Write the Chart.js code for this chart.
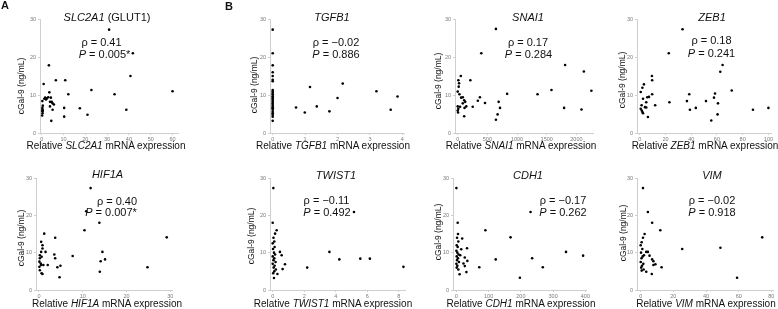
<!DOCTYPE html>
<html>
<head>
<meta charset="utf-8">
<script src="https://cdn.jsdelivr.net/npm/chart.js@4"></script>
<style>
  body { margin: 0; background: #fff; }
  #fig { position: relative; width: 778px; height: 309px; overflow: hidden; font-family: "Liberation Sans", Arial, sans-serif; color: #111; }
  .box { position: absolute; }
  .t { position: absolute; white-space: nowrap; transform: translate(-50%, -50%); line-height: 1; }
  .title { font-size: 11px; }
  .stat { font-size: 11px; }
  .xt { font-size: 10px; }
  .yt { font-size: 8.5px; transform: translate(-50%, -50%) rotate(-90deg); }
  .lab { font-size: 11px; font-weight: bold; }
</style>
</head>
<body>
<div id="fig"></div>
<script>
// cGal-9 (ng/mL) vs relative mRNA expression, one scatter per gene

const yTicks = [0, 10, 20, 30];

// A - SLC2A1
const slc2a1X = [30.9, 41.8, 3.3, 6.5, 10.8, 0.9, 40.7, 60, 22.8, 12.2, 33.4, 3.5, 1.6, 2.3, 3.0, 4.2, 0.3, 4.6, 5.0, 5.6, 3.8, 0.3, 0.4, 0.4, 0.4, 0.2, 10.3, 17.5, 38.8, 5.0, 21.0, 10.3, 4.4, 0.5, 1.2, 2.0, 3.8, 0.3];
const slc2a1Y = [27.2, 21.0, 17.8, 13.9, 13.9, 12.9, 15.0, 11.0, 11.3, 10.2, 10.2, 10.7, 9.3, 9.1, 9.4, 9.3, 8.4, 8.2, 7.8, 7.5, 7.0, 6.6, 6.1, 5.7, 5.2, 4.6, 6.6, 6.5, 6.1, 6.1, 4.8, 4.3, 3.2, 7.2, 9.0, 8.8, 8.2, 5.9];
const slc2a1Ticks = [0, 10, 20, 30, 40, 50, 60];

// HIF1A
const hif1aX = [11.8, 10.8, 13.8, 10.4, 1.2, 3.7, 29.2, 0.5, 0.8, 0.8, 0.5, 0.2, 0.6, 0.2, 0.1, 0.5, 0.1, 0.2, 0.6, 0.8, 0.4, 1.0, 1.5, 3.5, 3.7, 7.7, 14.5, 14.1, 15.1, 2.0, 4.2, 4.9, 13.9, 4.7, 24.8];
const hif1aY = [27.3, 21.1, 18.0, 16.0, 15.1, 14.0, 14.1, 12.9, 12.0, 11.1, 10.2, 9.3, 8.9, 8.5, 7.6, 6.7, 6.2, 5.3, 4.5, 4.3, 7.1, 6.7, 10.2, 9.5, 8.5, 9.1, 10.2, 7.7, 8.2, 6.7, 6.1, 6.5, 4.9, 3.4, 6.1];
const hif1aTicks = [0, 10, 20, 30];

// B - TGFB1
const tgfb1X = [0, 0, 0, 0, 0, 0, 0, 0, 0, 0, 0, 0, 0, 0, 0, 0, 0, 0, 0, 0, 0, 0, 0, 0, 0, 0, 0, 0.72, 0.99, 1.15, 1.36, 1.75, 2.0, 2.16, 3.2, 3.64, 3.85];
const tgfb1Y = [27.2, 21.0, 17.8, 16.0, 15.0, 14.0, 13.6, 11.3, 10.9, 10.5, 10.2, 9.7, 9.3, 9.0, 8.7, 8.3, 7.9, 7.6, 7.2, 6.8, 6.5, 6.1, 5.6, 5.2, 4.8, 4.3, 3.2, 6.7, 5.4, 12.1, 7.0, 5.7, 9.2, 13.0, 11.0, 6.1, 9.6];
const tgfb1Ticks = [0, 1, 2, 3, 4];

// SNAI1
const snai1X = [644, 397, 1810, 2126, 52, 11, 213, 23, 17, 0, 29, 57, 86, 109, 126, 86, 144, 115, 0, 11, 0, 6, 40, 109, 2253, 1580, 1345, 833, 374, 339, 690, 460, 253, 713, 1793, 2086, 672, 644];
const snai1Y = [27.4, 21.0, 17.9, 16.2, 15.0, 13.9, 13.9, 13.1, 12.2, 10.9, 10.2, 9.3, 9.4, 8.6, 8.2, 7.8, 7.0, 6.6, 7.0, 6.4, 5.9, 5.4, 6.9, 4.4, 11.1, 11.3, 10.2, 10.3, 9.4, 8.5, 8.2, 7.9, 6.9, 6.6, 6.6, 6.2, 4.9, 3.5];
const snai1Ticks = [0, 500, 1000, 1500, 2000];

// ZEB1
const zeb1X = [33.3, 22.6, 64.4, 62.6, 9.5, 9.7, 3.3, 2.1, 0.8, 71.5, 9.7, 38.5, 58.5, 57.7, 2.6, 5.9, 7.2, 36.7, 23.1, 51.5, 12.0, 5.1, 1.5, 60.8, 4.1, 5.1, 0.8, 1.6, 2.1, 2.6, 39.0, 43.6, 88.0, 100.0, 6.4, 60.5, 55.6];
const zeb1Y = [27.3, 21.0, 17.9, 16.1, 15.0, 13.9, 12.8, 11.9, 10.8, 11.2, 10.2, 10.2, 10.4, 9.3, 9.0, 9.4, 9.5, 8.4, 8.1, 8.4, 7.3, 8.1, 7.3, 7.8, 6.8, 6.7, 6.4, 5.9, 5.5, 5.2, 6.1, 6.6, 6.1, 6.6, 4.2, 4.9, 3.3];
const zeb1Ticks = [0, 20, 40, 60, 80, 100];

// TWIST1
const twist1X = [0.04, 0, 0.25, 0.15, 5.16, 0.05, 0.1, 0.0, 0.12, 0.02, 0.08, 0.15, 0.0, 0.1, 0.05, 0.18, 0.0, 0.12, 0.06, 0.2, 0.1, 0.03, 0.08, 0.46, 0.57, 0.78, 0.63, 0.3, 2.19, 3.6, 4.23, 5.56, 6.17, 8.3];
const twist1Y = [27.3, 18.0, 16.0, 15.1, 20.9, 14.0, 13.0, 12.5, 11.5, 11.0, 10.0, 9.5, 9.0, 8.5, 8.0, 7.5, 7.0, 6.5, 6.0, 5.5, 5.0, 4.5, 3.2, 10.2, 9.3, 6.9, 5.6, 4.3, 6.0, 10.2, 8.2, 8.4, 8.4, 6.2];
const twist1Ticks = [0, 2, 4, 6, 8];

// CDH1
const cdh1X = [0, 230, 4, 90, 5, 168, 18, 2, 6, 1, 4, 0, 3, 7, 1, 5, 2, 8, 0, 3, 1, 6, 33, 15, 340, 393, 12, 26, 122, 34, 235, 22, 26, 71, 268, 31, 10, 197];
const cdh1Y = [27.3, 20.9, 18.0, 16.0, 15.0, 14.1, 13.8, 14.0, 13.0, 12.0, 11.5, 10.5, 10.0, 9.5, 9.0, 8.5, 8.0, 7.5, 7.0, 6.5, 6.0, 5.5, 11.2, 10.9, 10.2, 9.2, 9.3, 8.7, 8.2, 7.8, 8.5, 7.1, 6.4, 6.1, 6.1, 4.8, 4.2, 3.3];
const cdh1Ticks = [0, 100, 200, 300, 400];

// VIM
const vimX = [1.4, 4.4, 7.0, 12.0, 2.4, 74.4, 1.4, 0.6, 0.0, 1.0, 25.4, 48.8, 3.4, 4.4, 5.4, 2.0, 7.0, 7.8, 9.0, 7.8, 12.8, 3.4, 6.8, 59.0, 0.2, 1.2, 0.5, 0.0, 1.6, 0.8, 0.3, 1.8, 0.6];
const vimY = [27.3, 20.9, 18.0, 16.0, 15.0, 14.1, 14.0, 12.8, 12.0, 11.0, 11.0, 11.3, 10.2, 10.2, 9.2, 9.3, 8.2, 7.7, 6.9, 6.7, 6.1, 4.9, 4.3, 3.3, 10.0, 9.0, 8.5, 7.5, 7.0, 6.5, 6.0, 5.5, 5.2];
const vimTicks = [0, 20, 40, 60, 80];

// placement of each panel on the 778x309 page
const panels = [
  { x: slc2a1X, y: slc2a1Y, xt: slc2a1Ticks, ax: 40, x0: 41.7, endPx: 173, xmax: 62.5, top: 19.3, bottom: 133.3,
    title: "<i>SLC2A1</i> (GLUT1)", tx: 107, ty: 17, rho: "ρ = 0.41", p: "<i>P</i> = 0.005*", rx: 101.5, ry: 42, px: 104.5, py: 53.5,
    xl: "Relative <i>SLC2A1</i> mRNA expression", xlx: 106, xly: 146, ylx: 21, yly: 86 },
  { x: tgfb1X, y: tgfb1Y, xt: tgfb1Ticks, ax: 270, x0: 272.7, endPx: 402.3, xmax: 4.05, top: 19.3, bottom: 133.3,
    title: "<i>TGFB1</i>", tx: 332, ty: 17, rho: "ρ = −0.02", p: "<i>P</i> = 0.886", rx: 336, ry: 42, px: 336, py: 54,
    xl: "Relative <i>TGFB1</i> mRNA expression", xlx: 333, xly: 146, ylx: 254, yly: 85 },
  { x: snai1X, y: snai1Y, xt: snai1Ticks, ax: 455, x0: 457.7, endPx: 576, xmax: 2280, top: 19.3, bottom: 133.3,
    title: "<i>SNAI1</i>", tx: 528, ty: 17, rho: "ρ = 0.17", p: "<i>P</i> = 0.284", rx: 528, ry: 42, px: 528.5, py: 54,
    xl: "Relative <i>SNAI1</i> mRNA expression", xlx: 521, xly: 146, ylx: 438, yly: 81 },
  { x: zeb1X, y: zeb1Y, xt: zeb1Ticks, ax: 637.3, x0: 640, endPx: 769, xmax: 102, top: 19.3, bottom: 133.3,
    title: "<i>ZEB1</i>", tx: 712, ty: 17, rho: "ρ = 0.18", p: "<i>P</i> = 0.241", rx: 711.5, ry: 40, px: 711.5, py: 53,
    xl: "Relative <i>ZEB1</i> mRNA expression", xlx: 705, xly: 146, ylx: 622, yly: 80 },
  { x: hif1aX, y: hif1aY, xt: hif1aTicks, ax: 36, x0: 39, endPx: 170.7, xmax: 30.4, top: 177.7, bottom: 290,
    title: "<i>HIF1A</i>", tx: 107.5, ty: 174, rho: "ρ = 0.40", p: "<i>P</i> = 0.007*", rx: 117, ry: 200.7, px: 111, py: 212.3,
    xl: "Relative <i>HIF1A</i> mRNA expression", xlx: 107, xly: 304, ylx: 21, yly: 237.5 },
  { x: twist1X, y: twist1Y, xt: twist1Ticks, ax: 270, x0: 272.7, endPx: 398.3, xmax: 8.4, top: 177.7, bottom: 290,
    title: "<i>TWIST1</i>", tx: 336, ty: 175, rho: "ρ = −0.11", p: "<i>P</i> = 0.492", rx: 326.5, ry: 200, px: 327, py: 211.7,
    xl: "Relative <i>TWIST1</i> mRNA expression", xlx: 333, xly: 304, ylx: 251, yly: 236 },
  { x: cdh1X, y: cdh1Y, xt: cdh1Ticks, ax: 453.3, x0: 456.7, endPx: 586, xmax: 405, top: 177.7, bottom: 290,
    title: "<i>CDH1</i>", tx: 528, ty: 175, rho: "ρ = −0.17", p: "<i>P</i> = 0.262", rx: 563, ry: 200, px: 563, py: 212.3,
    xl: "Relative <i>CDH1</i> mRNA expression", xlx: 521, xly: 304, ylx: 438, yly: 232 },
  { x: vimX, y: vimY, xt: vimTicks, ax: 637.3, x0: 641, endPx: 771.7, xmax: 81, top: 177.7, bottom: 290,
    title: "<i>VIM</i>", tx: 712, ty: 175, rho: "ρ = −0.02", p: "<i>P</i> = 0.918", rx: 712, ry: 200, px: 712, py: 212,
    xl: "Relative <i>VIM</i> mRNA expression", xlx: 706, xly: 304, ylx: 623, yly: 233 },
];

const fig = document.getElementById("fig");
const axisGray = "#cfcfcf";
const tickFont = { family: "'Liberation Sans', Arial, sans-serif", size: 5.5 };

function addText(cls, html, x, y) {
  const d = document.createElement("div");
  d.className = "t " + cls;
  d.innerHTML = html;
  d.style.left = x + "px";
  d.style.top = y + "px";
  fig.appendChild(d);
}

function makePanel(p) {
  const lastTick = p.xt[p.xt.length - 1];
  const ppu = (p.endPx - p.x0) / lastTick;
  const xmin = -(p.x0 - p.ax) / ppu;
  const right = p.x0 + p.xmax * ppu;

  const L = p.ax - 30, T = p.top - 6;
  const W = Math.round(right - L + 4), H = Math.round(p.bottom - T + 12);
  const box = document.createElement("div");
  box.className = "box";
  box.style.left = L + "px";
  box.style.top = T + "px";
  const cv = document.createElement("canvas");
  cv.width = W; cv.height = H;
  cv.style.width = W + "px"; cv.style.height = H + "px";
  box.appendChild(cv);
  fig.appendChild(box);

  new Chart(cv, {
    type: "scatter",
    data: {
      datasets: [{
        data: p.x.map((v, i) => ({ x: v, y: p.y[i] })),
        pointRadius: 1.3,
        pointHoverRadius: 1.3,
        backgroundColor: "#000",
        borderWidth: 0,
        clip: false,
      }],
    },
    options: {
      responsive: false,
      animation: false,
      events: [],
      layout: { padding: { left: 0, top: p.top - T, right: 4, bottom: 0 } },
      plugins: { legend: { display: false }, tooltip: { enabled: false } },
      scales: {
        x: {
          type: "linear",
          min: xmin,
          max: p.xmax,
          afterBuildTicks: (ax) => { ax.ticks = p.xt.map((v) => ({ value: v })); },
          afterFit: (s) => { s.height = 12; },
          ticks: { font: tickFont, color: "#7a7a7a", padding: 1, maxRotation: 0, autoSkip: false, callback: (v) => String(v) },
          grid: { display: true, drawOnChartArea: false, tickLength: 2, color: axisGray },
          border: { color: axisGray, width: 1 },
        },
        y: {
          min: 0,
          max: 30,
          afterBuildTicks: (ax) => { ax.ticks = yTicks.map((v) => ({ value: v })); },
          afterFit: (s) => { s.width = 30; },
          ticks: { font: tickFont, color: "#7a7a7a", padding: 2, callback: (v) => String(v) },
          grid: { display: true, drawOnChartArea: false, tickLength: 2, color: axisGray },
          border: { color: axisGray, width: 1 },
        },
      },
    },
  });

  addText("title", p.title, p.tx, p.ty);
  addText("stat", p.rho, p.rx, p.ry);
  addText("stat", p.p, p.px, p.py);
  addText("xt", p.xl, p.xlx, p.xly);
  addText("yt", "cGal-9 (ng/mL)", p.ylx, p.yly);
}

panels.forEach(makePanel);

addText("lab", "A", 5, 5);
addText("lab", "B", 229, 6);
</script>
</body>
</html>
